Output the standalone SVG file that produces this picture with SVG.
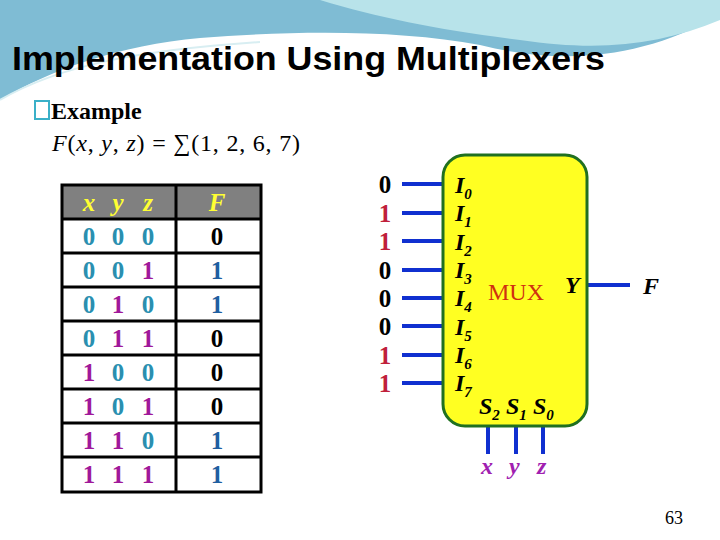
<svg xmlns="http://www.w3.org/2000/svg" width="720" height="540" viewBox="0 0 720 540">
<style>
.t{font-family:"Liberation Serif",serif;font-weight:bold;font-size:25px;text-anchor:middle}
.i{font-family:"Liberation Serif",serif;font-weight:bold;font-style:italic}
.c{fill:#2a8fb0}.m{fill:#a0189a}.b{fill:#1f5fa0}.k{fill:#000}.r{fill:#c0203a}
.w{stroke:#1030d0;stroke-width:4}
.g{stroke:#000;stroke-width:3}
</style>
<rect width="720" height="540" fill="#fff"/>
<path d="M0 0H720V15C640 60 560 65 480 45C400 30 300 30 200 38C120 45 50 70 0 100Z" fill="#7fbcd4"/>
<path d="M320 0H720V20C660 45 600 52 520 40C440 30 380 18 320 0Z" fill="#b8e3ea"/>
<path d="M0 100C60 65 140 50 260 42" stroke="#d8eef2" stroke-width="2" fill="none"/>
<text x="12" y="70" font-family="Liberation Sans,sans-serif" font-weight="bold" font-size="34" textLength="593" lengthAdjust="spacingAndGlyphs" fill="#000">Implementation Using Multiplexers</text>
<rect x="35" y="101" width="14" height="18" fill="none" stroke="#3ab0c8" stroke-width="2"/>
<text x="51" y="119" font-family="Liberation Serif,serif" font-weight="bold" font-size="24">Example</text>
<text x="52" y="151" font-family="Liberation Serif,serif" font-size="24" textLength="248"><tspan font-style="italic">F</tspan>(<tspan font-style="italic">x</tspan>, <tspan font-style="italic">y</tspan>, <tspan font-style="italic">z</tspan>) = ∑(1, 2, 6, 7)</text>
<g id="table">
<rect x="62" y="185" width="199" height="34" fill="#808080"/>
<rect x="62" y="185" width="199" height="307" fill="none" class="g"/>
<path class="g" d="M176 185V492M62 219H261M62 253H261M62 287H261M62 321H261M62 355H261M62 389H261M62 423H261M62 457H261"/>
<g class="t i" fill="#ffff33"><text x="89" y="211">x</text><text x="118" y="211">y</text><text x="148" y="211">z</text><text x="217" y="211">F</text></g>
<g class="t">
<text x="89" y="245" class="c">0</text><text x="118" y="245" class="c">0</text><text x="148" y="245" class="c">0</text><text x="217" y="245" class="k">0</text>
<text x="89" y="279" class="c">0</text><text x="118" y="279" class="c">0</text><text x="148" y="279" class="m">1</text><text x="217" y="279" class="b">1</text>
<text x="89" y="313" class="c">0</text><text x="118" y="313" class="m">1</text><text x="148" y="313" class="c">0</text><text x="217" y="313" class="b">1</text>
<text x="89" y="347" class="c">0</text><text x="118" y="347" class="m">1</text><text x="148" y="347" class="m">1</text><text x="217" y="347" class="k">0</text>
<text x="89" y="381" class="m">1</text><text x="118" y="381" class="c">0</text><text x="148" y="381" class="c">0</text><text x="217" y="381" class="k">0</text>
<text x="89" y="415" class="m">1</text><text x="118" y="415" class="c">0</text><text x="148" y="415" class="m">1</text><text x="217" y="415" class="k">0</text>
<text x="89" y="449" class="m">1</text><text x="118" y="449" class="m">1</text><text x="148" y="449" class="c">0</text><text x="217" y="449" class="b">1</text>
<text x="89" y="483" class="m">1</text><text x="118" y="483" class="m">1</text><text x="148" y="483" class="m">1</text><text x="217" y="483" class="b">1</text>
</g>
</g>
<g id="connectors" class="w">
<path d="M402 184H443M402 213H443M402 241H443M402 270H443M402 298H443M402 326H443M402 355H443M402 383H443"/>
<path d="M587 285H630M488 426V454M516 426V454M543 426V454"/>
</g>
<g id="mux">
<rect x="443" y="155" width="144" height="271" rx="22" fill="#ffff22" stroke="#207020" stroke-width="3"/>
<g class="i" font-size="24" fill="#000">
<text x="455" y="193">I<tspan font-size="15" dy="6">0</tspan></text>
<text x="455" y="221">I<tspan font-size="15" dy="6">1</tspan></text>
<text x="455" y="250">I<tspan font-size="15" dy="6">2</tspan></text>
<text x="455" y="278">I<tspan font-size="15" dy="6">3</tspan></text>
<text x="455" y="306">I<tspan font-size="15" dy="6">4</tspan></text>
<text x="455" y="335">I<tspan font-size="15" dy="6">5</tspan></text>
<text x="455" y="363">I<tspan font-size="15" dy="6">6</tspan></text>
<text x="455" y="391">I<tspan font-size="15" dy="6">7</tspan></text>
<text x="479" y="414">S<tspan font-size="15" dy="6">2</tspan></text>
<text x="506" y="414">S<tspan font-size="15" dy="6">1</tspan></text>
<text x="533" y="414">S<tspan font-size="15" dy="6">0</tspan></text>
<text x="565" y="293">Y</text>
</g>
<text x="488" y="300" font-family="Liberation Serif,serif" font-size="24" fill="#d03010">MUX</text>
</g>
<g class="t">
<text x="385" y="193" class="k">0</text><text x="385" y="222" class="r">1</text><text x="385" y="250" class="r">1</text><text x="385" y="279" class="k">0</text>
<text x="385" y="307" class="k">0</text><text x="385" y="335" class="k">0</text><text x="385" y="364" class="r">1</text><text x="385" y="392" class="r">1</text>
</g>
<g class="i" font-size="24">
<text x="643" y="294" fill="#000">F</text>
<text x="481" y="474" fill="#a020b0">x</text><text x="509" y="474" fill="#a020b0">y</text><text x="537" y="474" fill="#a020b0">z</text>
</g>
<text x="665" y="524" font-family="Liberation Serif,serif" font-size="18" fill="#000">63</text>
</svg>
